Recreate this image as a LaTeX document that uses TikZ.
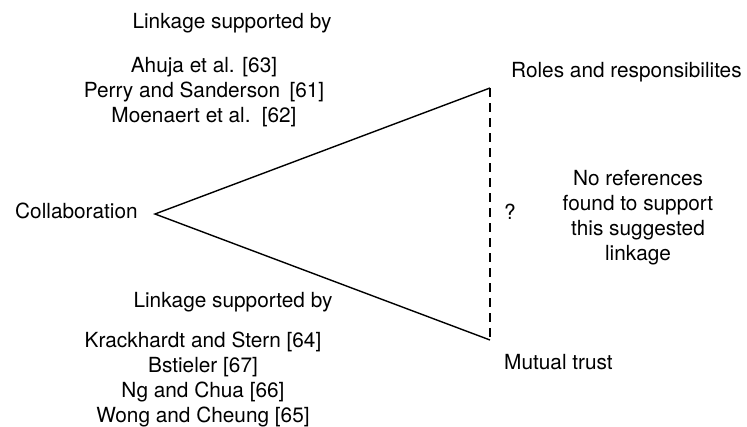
\documentclass[tikz,border=0pt]{standalone}
\usepackage{fontspec}
\setmainfont{TeX Gyre Heros}
\begin{document}
\begin{tikzpicture}[x=1pt,y=-1pt,
  lbl/.style={inner sep=0pt, align=center, anchor=base, font=\fontsize{20.8}{25}\selectfont},
  link/.style={line width=1.4pt, line join=miter},
  gap/.style={line width=1.4pt, dash pattern=on 9pt off 6pt}]
\useasboundingbox (0,0) rectangle (747,426);
\coordinate (C) at (155,214);
\coordinate (R) at (490,88);
\coordinate (M) at (490,340);
\draw[link] (R) -- (C) -- (M);
\draw[gap] (R) -- (M);
\node[lbl, anchor=base west] (collab) at (15,218) {Collaboration};
\node[lbl, anchor=base west] (roles) at (511,77) {Roles and responsibilites};
\node[lbl, anchor=base west] (trust) at (504,369) {Mutual trust};
\node[lbl] (q) at (510,219) {?};
\node[lbl] (none) at (638,260) {No references\\found to support\\this suggested\\linkage};
\node[lbl] (topt) at (232,28) {Linkage supported by};
\node[lbl] (topr) at (204,122) {Ahuja et al. [63]\\Perry and Sanderson\, [61]\\Moenaert et al.\, [62]};
\node[lbl] (bott) at (233,307) {Linkage supported by};
\node[lbl] (botr) at (203,422) {Krackhardt and Stern [64]\\Bstieler [67]\\Ng and Chua [66]\\Wong and Cheung [65]};
\end{tikzpicture}
\end{document}
